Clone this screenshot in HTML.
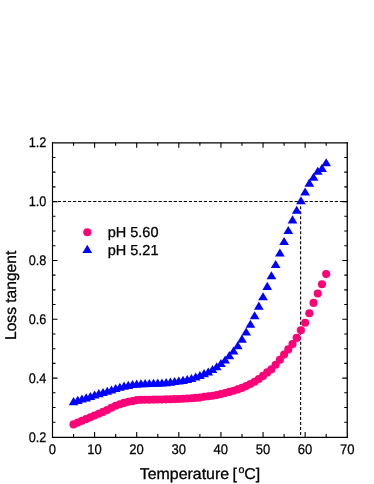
<!DOCTYPE html>
<html><head><meta charset="utf-8"><title>Loss tangent</title>
<style>
html,body{margin:0;padding:0;background:#fff;}
body{width:374px;height:484px;overflow:hidden;}
svg{display:block;will-change:transform;}
text{font-family:"Liberation Sans",sans-serif;fill:#000;text-rendering:geometricPrecision;}
</style></head><body>
<svg width="374" height="484" viewBox="0 0 374 484">
<rect x="0" y="0" width="374" height="484" fill="#fff"/>

<g stroke="#000" stroke-width="1.1" fill="none" stroke-dasharray="3.1 1.935" opacity="1"><path d="M52.9 201.45 H347.25"/><path d="M300.62 201.17 V436.95" stroke-dasharray="3.0 2.02"/></g>
<g fill="#0000ff">
<path d="M73.55 397.10 L78.40 405.20 L68.70 405.20 Z"/>
<path d="M77.76 395.80 L82.61 403.90 L72.91 403.90 Z"/>
<path d="M81.97 394.40 L86.82 402.50 L77.12 402.50 Z"/>
<path d="M86.19 393.30 L91.04 401.40 L81.34 401.40 Z"/>
<path d="M90.40 391.90 L95.25 400.00 L85.55 400.00 Z"/>
<path d="M94.61 390.40 L99.46 398.50 L89.76 398.50 Z"/>
<path d="M98.82 389.10 L103.67 397.20 L93.97 397.20 Z"/>
<path d="M103.03 387.90 L107.88 396.00 L98.18 396.00 Z"/>
<path d="M107.24 386.65 L112.09 394.75 L102.39 394.75 Z"/>
<path d="M111.45 385.40 L116.30 393.50 L106.60 393.50 Z"/>
<path d="M115.66 384.00 L120.51 392.10 L110.81 392.10 Z"/>
<path d="M119.87 382.70 L124.72 390.80 L115.02 390.80 Z"/>
<path d="M124.08 381.60 L128.93 389.70 L119.23 389.70 Z"/>
<path d="M128.29 380.80 L133.14 388.90 L123.44 388.90 Z"/>
<path d="M132.50 380.00 L137.35 388.10 L127.65 388.10 Z"/>
<path d="M136.71 379.60 L141.56 387.70 L131.86 387.70 Z"/>
<path d="M140.93 379.25 L145.78 387.35 L136.08 387.35 Z"/>
<path d="M145.14 379.10 L149.99 387.20 L140.29 387.20 Z"/>
<path d="M149.35 378.90 L154.20 387.00 L144.50 387.00 Z"/>
<path d="M153.56 378.75 L158.41 386.85 L148.71 386.85 Z"/>
<path d="M157.77 378.60 L162.62 386.70 L152.92 386.70 Z"/>
<path d="M161.98 378.40 L166.83 386.50 L157.13 386.50 Z"/>
<path d="M166.19 378.05 L171.04 386.15 L161.34 386.15 Z"/>
<path d="M170.40 377.60 L175.25 385.70 L165.55 385.70 Z"/>
<path d="M174.61 376.90 L179.46 385.00 L169.76 385.00 Z"/>
<path d="M178.82 376.40 L183.67 384.50 L173.97 384.50 Z"/>
<path d="M183.03 375.80 L187.88 383.90 L178.18 383.90 Z"/>
<path d="M187.24 375.00 L192.09 383.10 L182.39 383.10 Z"/>
<path d="M191.45 373.90 L196.30 382.00 L186.60 382.00 Z"/>
<path d="M195.66 372.40 L200.51 380.50 L190.81 380.50 Z"/>
<path d="M199.88 371.00 L204.72 379.10 L195.03 379.10 Z"/>
<path d="M204.09 369.10 L208.94 377.20 L199.24 377.20 Z"/>
<path d="M208.30 367.40 L213.15 375.50 L203.45 375.50 Z"/>
<path d="M212.51 364.95 L217.36 373.05 L207.66 373.05 Z"/>
<path d="M216.72 362.15 L221.57 370.25 L211.87 370.25 Z"/>
<path d="M220.93 359.00 L225.78 367.10 L216.08 367.10 Z"/>
<path d="M225.14 355.40 L229.99 363.50 L220.29 363.50 Z"/>
<path d="M229.35 351.10 L234.20 359.20 L224.50 359.20 Z"/>
<path d="M233.56 346.40 L238.41 354.50 L228.71 354.50 Z"/>
<path d="M237.77 341.20 L242.62 349.30 L232.92 349.30 Z"/>
<path d="M241.98 334.60 L246.83 342.70 L237.13 342.70 Z"/>
<path d="M246.19 327.50 L251.04 335.60 L241.34 335.60 Z"/>
<path d="M250.40 319.70 L255.25 327.80 L245.55 327.80 Z"/>
<path d="M254.61 311.20 L259.46 319.30 L249.76 319.30 Z"/>
<path d="M258.82 301.55 L263.68 309.65 L253.97 309.65 Z"/>
<path d="M263.04 292.15 L267.89 300.25 L258.19 300.25 Z"/>
<path d="M267.25 281.80 L272.10 289.90 L262.40 289.90 Z"/>
<path d="M271.46 271.20 L276.31 279.30 L266.61 279.30 Z"/>
<path d="M275.67 260.00 L280.52 268.10 L270.82 268.10 Z"/>
<path d="M279.88 248.40 L284.73 256.50 L275.03 256.50 Z"/>
<path d="M284.09 236.90 L288.94 245.00 L279.24 245.00 Z"/>
<path d="M288.30 226.00 L293.15 234.10 L283.45 234.10 Z"/>
<path d="M292.51 215.30 L297.36 223.40 L287.66 223.40 Z"/>
<path d="M296.72 205.70 L301.57 213.80 L291.87 213.80 Z"/>
<path d="M300.93 196.20 L305.78 204.30 L296.08 204.30 Z"/>
<path d="M305.14 187.40 L309.99 195.50 L300.29 195.50 Z"/>
<path d="M309.35 178.60 L314.20 186.70 L304.50 186.70 Z"/>
<path d="M313.56 172.70 L318.41 180.80 L308.71 180.80 Z"/>
<path d="M317.77 166.70 L322.62 174.80 L312.92 174.80 Z"/>
<path d="M321.99 163.80 L326.84 171.90 L317.14 171.90 Z"/>
<path d="M326.20 158.20 L331.05 166.30 L321.35 166.30 Z"/>
</g>
<path d="M52.9 201.45 H347.25" stroke="#000" stroke-width="1.1" fill="none" stroke-dasharray="3.1 1.935" opacity="0.3"/>
<g fill="#ff0078">
<circle cx="73.55" cy="424.40" r="4.05"/>
<circle cx="77.76" cy="422.60" r="4.05"/>
<circle cx="81.97" cy="420.85" r="4.05"/>
<circle cx="86.19" cy="419.10" r="4.05"/>
<circle cx="90.40" cy="417.35" r="4.05"/>
<circle cx="94.61" cy="415.55" r="4.05"/>
<circle cx="98.82" cy="413.70" r="4.05"/>
<circle cx="103.03" cy="411.90" r="4.05"/>
<circle cx="107.24" cy="409.95" r="4.05"/>
<circle cx="111.45" cy="407.80" r="4.05"/>
<circle cx="115.66" cy="405.75" r="4.05"/>
<circle cx="119.87" cy="404.20" r="4.05"/>
<circle cx="124.08" cy="402.90" r="4.05"/>
<circle cx="128.29" cy="401.80" r="4.05"/>
<circle cx="132.50" cy="401.15" r="4.05"/>
<circle cx="136.71" cy="400.10" r="4.05"/>
<circle cx="140.93" cy="399.85" r="4.05"/>
<circle cx="145.14" cy="399.75" r="4.05"/>
<circle cx="149.35" cy="399.70" r="4.05"/>
<circle cx="153.56" cy="399.60" r="4.05"/>
<circle cx="157.77" cy="399.55" r="4.05"/>
<circle cx="161.98" cy="399.45" r="4.05"/>
<circle cx="166.19" cy="399.35" r="4.05"/>
<circle cx="170.40" cy="399.25" r="4.05"/>
<circle cx="174.61" cy="399.10" r="4.05"/>
<circle cx="178.82" cy="398.95" r="4.05"/>
<circle cx="183.03" cy="398.75" r="4.05"/>
<circle cx="187.24" cy="398.50" r="4.05"/>
<circle cx="191.45" cy="398.20" r="4.05"/>
<circle cx="195.66" cy="397.90" r="4.05"/>
<circle cx="199.88" cy="397.60" r="4.05"/>
<circle cx="204.09" cy="396.80" r="4.05"/>
<circle cx="208.30" cy="396.30" r="4.05"/>
<circle cx="212.51" cy="395.70" r="4.05"/>
<circle cx="216.72" cy="394.95" r="4.05"/>
<circle cx="220.93" cy="394.10" r="4.05"/>
<circle cx="225.14" cy="393.05" r="4.05"/>
<circle cx="229.35" cy="391.90" r="4.05"/>
<circle cx="233.56" cy="390.70" r="4.05"/>
<circle cx="237.77" cy="389.40" r="4.05"/>
<circle cx="241.98" cy="387.90" r="4.05"/>
<circle cx="246.19" cy="386.10" r="4.05"/>
<circle cx="250.40" cy="384.00" r="4.05"/>
<circle cx="254.61" cy="381.80" r="4.05"/>
<circle cx="258.82" cy="379.00" r="4.05"/>
<circle cx="263.04" cy="375.90" r="4.05"/>
<circle cx="267.25" cy="372.40" r="4.05"/>
<circle cx="271.46" cy="369.20" r="4.05"/>
<circle cx="275.67" cy="364.80" r="4.05"/>
<circle cx="279.88" cy="359.80" r="4.05"/>
<circle cx="284.09" cy="354.60" r="4.05"/>
<circle cx="288.30" cy="349.40" r="4.05"/>
<circle cx="292.51" cy="344.10" r="4.05"/>
<circle cx="296.72" cy="337.90" r="4.05"/>
<circle cx="300.93" cy="330.20" r="4.05"/>
<circle cx="305.14" cy="322.80" r="4.05"/>
<circle cx="309.35" cy="313.20" r="4.05"/>
<circle cx="313.56" cy="302.90" r="4.05"/>
<circle cx="317.77" cy="293.50" r="4.05"/>
<circle cx="321.99" cy="284.30" r="4.05"/>
<circle cx="326.20" cy="274.00" r="4.05"/>
</g>
<g stroke="#000" stroke-width="1.25" fill="none" stroke-linecap="butt">
<path d="M52.5 142.2 V438.0" stroke-width="1.15"/>
<path d="M347.25 142.2 V438.0" stroke-width="1.3"/>
<path d="M51.92 142.85 H347.9" stroke-width="1.25"/>
<path d="M51.92 437.35 H347.9" stroke-width="1.25"/>
<path d="M73.55 436.95 v-3 M73.55 142.75 v3 M94.61 436.95 v-5 M94.61 142.75 v5 M115.66 436.95 v-3 M115.66 142.75 v3 M136.71 436.95 v-5 M136.71 142.75 v5 M157.77 436.95 v-3 M157.77 142.75 v3 M178.82 436.95 v-5 M178.82 142.75 v5 M199.88 436.95 v-3 M199.88 142.75 v3 M220.93 436.95 v-5 M220.93 142.75 v5 M241.98 436.95 v-3 M241.98 142.75 v3 M263.04 436.95 v-5 M263.04 142.75 v5 M284.09 436.95 v-3 M284.09 142.75 v3 M305.14 436.95 v-5 M305.14 142.75 v5 M326.20 436.95 v-3 M326.20 142.75 v3 M52.5 422.24 h3 M347.25 422.24 h-3 M52.5 407.53 h3 M347.25 407.53 h-3 M52.5 392.82 h3 M347.25 392.82 h-3 M52.5 378.11 h5 M347.25 378.11 h-5 M52.5 363.40 h3 M347.25 363.40 h-3 M52.5 348.69 h3 M347.25 348.69 h-3 M52.5 333.98 h3 M347.25 333.98 h-3 M52.5 319.27 h5 M347.25 319.27 h-5 M52.5 304.56 h3 M347.25 304.56 h-3 M52.5 289.85 h3 M347.25 289.85 h-3 M52.5 275.14 h3 M347.25 275.14 h-3 M52.5 260.43 h5 M347.25 260.43 h-5 M52.5 245.72 h3 M347.25 245.72 h-3 M52.5 231.01 h3 M347.25 231.01 h-3 M52.5 216.30 h3 M347.25 216.30 h-3 M52.5 201.59 h5 M347.25 201.59 h-5 M52.5 186.88 h3 M347.25 186.88 h-3 M52.5 172.17 h3 M347.25 172.17 h-3 M52.5 157.46 h3 M347.25 157.46 h-3" stroke-width="1.1"/>
</g>
<g font-size="14.0px" stroke="#000" stroke-width="0.25">
<text transform="translate(52.40 453.5) scale(0.933 1)" text-anchor="middle">0</text>
<text transform="translate(94.51 453.5) scale(0.933 1)" text-anchor="middle">10</text>
<text transform="translate(136.61 453.5) scale(0.933 1)" text-anchor="middle">20</text>
<text transform="translate(178.72 453.5) scale(0.933 1)" text-anchor="middle">30</text>
<text transform="translate(220.83 453.5) scale(0.933 1)" text-anchor="middle">40</text>
<text transform="translate(262.94 453.5) scale(0.933 1)" text-anchor="middle">50</text>
<text transform="translate(305.04 453.5) scale(0.933 1)" text-anchor="middle">60</text>
<text transform="translate(347.15 453.5) scale(0.933 1)" text-anchor="middle">70</text>
<text transform="translate(46.4 441.85) scale(0.908 1)" text-anchor="end">0.2</text>
<text transform="translate(46.4 382.81) scale(0.908 1)" text-anchor="end">0.4</text>
<text transform="translate(46.4 323.87) scale(0.908 1)" text-anchor="end">0.6</text>
<text transform="translate(46.4 265.33) scale(0.908 1)" text-anchor="end">0.8</text>
<text transform="translate(46.4 205.79) scale(0.908 1)" text-anchor="end">1.0</text>
<text transform="translate(46.4 147.05) scale(0.908 1)" text-anchor="end">1.2</text>
</g>
<text transform="translate(139.75 478.6) scale(1.021 1)" font-size="15.6px" stroke="#000" stroke-width="0.3">Temperature <tspan dx="-0.94">[</tspan><tspan font-size="10.5px" dy="-5.6" dx="1.5">o</tspan><tspan dy="5.6" dx="-0.3">C]</tspan></text>
<text transform="translate(16.3 340.0) rotate(-90)" font-size="15.6px" stroke="#000" stroke-width="0.3">Loss tangent</text>
<circle cx="87.3" cy="232.3" r="4.05" fill="#ff0078"/>
<path d="M87.3 244.8 L92.14999999999999 252.9 L82.45 252.9 Z" fill="#0000ff"/>
<text x="107.7" y="237.4" font-size="14.5px" stroke="#000" stroke-width="0.3">pH 5.60</text>
<text x="107.7" y="254.6" font-size="14.5px" stroke="#000" stroke-width="0.3">pH 5.21</text>
</svg></body></html>
